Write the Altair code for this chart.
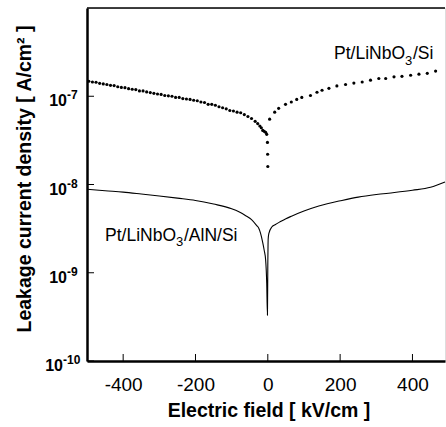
import altair as alt
import pandas as pd

# ---- data ----
# Pt/LiNbO3/Si (dotted)
si_field = [-495, -485, -475, -465, -455, -445, -435, -425, -415, -405,
            -395, -385, -375, -365, -355, -345, -335, -325, -315, -305,
            -295, -285, -275, -265, -255, -245, -235, -225, -215, -205,
            -195, -185, -175, -165, -155, -145, -135, -125, -115, -105,
            -95, -85, -75, -65, -55, -45, -35, -28, -22, -18, -14, -10,
            -6, -3, -1, -0.5, 0,
            5, 19, 30, 49, 65, 80, 94, 118, 136, 150, 169, 191, 215, 238,
            261, 284, 307, 326, 349, 371, 395, 418, 441, 464]
si_j = [1.48e-7, 1.45e-7, 1.44e-7, 1.40e-7, 1.38e-7, 1.36e-7, 1.33e-7, 1.32e-7, 1.28e-7, 1.26e-7,
        1.25e-7, 1.22e-7, 1.20e-7, 1.19e-7, 1.15e-7, 1.15e-7, 1.12e-7, 1.10e-7, 1.08e-7, 1.06e-7,
        1.05e-7, 1.02e-7, 1.01e-7, 1.00e-7, 9.7e-8, 9.7e-8, 9.4e-8, 9.3e-8, 9.2e-8, 9.0e-8,
        8.9e-8, 8.6e-8, 8.5e-8, 8.1e-8, 8.1e-8, 7.9e-8, 7.6e-8, 7.4e-8, 7.2e-8, 6.9e-8,
        6.8e-8, 6.6e-8, 6.5e-8, 6.2e-8, 5.9e-8, 5.6e-8, 5.2e-8, 4.9e-8, 4.6e-8, 4.4e-8, 4.1e-8, 4.0e-8,
        3.9e-8, 3.7e-8, 3.0e-8, 2.2e-8, 1.6e-8,
        5.5e-8, 6.6e-8, 7.3e-8, 8.1e-8, 8.6e-8, 9.2e-8, 9.7e-8, 1.02e-7, 1.11e-7, 1.17e-7, 1.23e-7, 1.31e-7, 1.36e-7, 1.41e-7,
        1.45e-7, 1.52e-7, 1.59e-7, 1.59e-7, 1.66e-7, 1.68e-7, 1.73e-7, 1.78e-7, 1.82e-7, 1.93e-7]

# Pt/LiNbO3/AlN/Si (solid)
aln_field = [-500, -450, -400, -350, -300, -250, -200, -150, -100, -80, -60, -45,
             -30, -25, -20, -14, -10, -6, -3, -1, 0, 1, 3, 11, 20, 35, 50, 67,
             100, 141, 205, 250, 300, 350, 400, 450, 490]
aln_j = [8.85e-9, 8.5e-9, 8.2e-9, 7.8e-9, 7.4e-9, 7.0e-9, 6.6e-9, 6.0e-9, 5.3e-9, 4.9e-9, 4.4e-9, 4.0e-9,
         3.4e-9, 3.2e-9, 2.8e-9, 2.2e-9, 1.8e-9, 1.4e-9, 7.6e-10, 3.3e-10, 1.2e-9, 2.4e-9, 2.8e-9, 3.3e-9, 3.5e-9, 3.8e-9, 4.1e-9, 4.4e-9,
         5.0e-9, 5.7e-9, 6.6e-9, 7.2e-9, 7.7e-9, 8.1e-9, 8.6e-9, 9.3e-9, 1.07e-8]

x_ticks = [-400, -200, 0, 200, 400]
y_ticks = [1e-7, 1e-8, 1e-9, 1e-10]
y_exps = ["-7", "-8", "-9", "-10"]

label_si = ["Pt/LiNbO", "3", "/Si"]
label_aln = ["Pt/LiNbO", "3", "/AlN/Si"]
x_title = "Electric field [ kV/cm ]"
y_title = "Leakage current density [ A/cm\u00b2 ]"

# ---- chart ----
W, H = 358, 353
FONT = "Liberation Sans"
xs = alt.Scale(domain=[-500, 490], nice=False, zero=False)
ys = alt.Scale(type="log", domain=[1e-10, 1e-6], nice=False)

df_si = pd.DataFrame({"E": si_field, "J": si_j})
df_aln = pd.DataFrame({"E": aln_field, "J": aln_j})
df_xt = pd.DataFrame({"v": x_ticks})
df_yt = pd.DataFrame({"v": y_ticks, "exp": y_exps})
one = pd.DataFrame({"a": [0]})

xaxis = alt.Axis(title=None, ticks=False, tickSize=0, grid=False, values=x_ticks,
                 labelExpr="'' + datum.value", labelFont=FONT, labelFontSize=19,
                 labelColor="black", labelBaseline="alphabetic", labelPadding=29,
                 domainColor="black", domainWidth=2.5, labelFlush=False)
yaxis = alt.Axis(title=None, ticks=False, labels=False, grid=False,
                 domainColor="black", domainWidth=2.5)

dots = alt.Chart(df_si).mark_circle(size=10, color="black", opacity=1).encode(
    x=alt.X("E:Q", scale=xs, axis=xaxis),
    y=alt.Y("J:Q", scale=ys, axis=yaxis),
)
line = alt.Chart(df_aln).mark_line(color="black", strokeWidth=1.1, interpolate="monotone").encode(
    x=alt.X("E:Q", scale=xs),
    y=alt.Y("J:Q", scale=ys),
)
xt = alt.Chart(df_xt).mark_rule(color="black", strokeWidth=1).encode(
    x=alt.X("v:Q", scale=xs), y=alt.value(H), y2=alt.value(H - 7))
yt = alt.Chart(df_yt).mark_rule(color="black", strokeWidth=1).encode(
    y=alt.Y("v:Q", scale=ys), x=alt.value(0), x2=alt.value(7))
top = alt.Chart(one).mark_rule(color="black", strokeWidth=1.5).encode(
    x=alt.value(0), x2=alt.value(W), y=alt.value(0))

ten_short = alt.Chart(df_yt).transform_filter("length(datum.exp) < 3").mark_text(
    align="right", baseline="alphabetic", dy=10, font=FONT, fontSize=16, fontWeight="bold", color="black"
).encode(y=alt.Y("v:Q", scale=ys), x=alt.value(-20), text=alt.value("10"))
ten_long = alt.Chart(df_yt).transform_filter("length(datum.exp) >= 3").mark_text(
    align="right", baseline="alphabetic", dy=10, font=FONT, fontSize=16, fontWeight="bold", color="black"
).encode(y=alt.Y("v:Q", scale=ys), x=alt.value(-24), text=alt.value("10"))
exp_short = alt.Chart(df_yt).transform_filter("length(datum.exp) < 3").mark_text(
    align="left", baseline="alphabetic", dy=3, font=FONT, fontSize=12, fontWeight="bold", color="black"
).encode(y=alt.Y("v:Q", scale=ys), x=alt.value(-20), text="exp:N")
exp_long = alt.Chart(df_yt).transform_filter("length(datum.exp) >= 3").mark_text(
    align="left", baseline="alphabetic", dy=3, font=FONT, fontSize=12, fontWeight="bold", color="black"
).encode(y=alt.Y("v:Q", scale=ys), x=alt.value(-24), text="exp:N")


def txt(s, x, y, size, align="left", weight="normal", angle=0, baseline="alphabetic"):
    kw = dict(align=align, baseline=baseline, font=FONT, fontSize=size,
              fontWeight=weight, color="black")
    if angle:
        kw["angle"] = angle
    return alt.Chart(one).mark_text(**kw).encode(
        x=alt.value(x), y=alt.value(y), text=alt.value(s))


annos = [
    txt(label_si[0], 318, 51, 17.5, align="right"),
    txt(label_si[1], 318, 57, 13),
    txt(label_si[2], 326, 51, 17.5),
    txt(label_aln[0], 89, 233, 17.5, align="right"),
    txt(label_aln[1], 89, 238, 13),
    txt(label_aln[2], 97, 233, 17.5),
    txt(x_title, 182, 403, 19.5, align="center", weight="bold", baseline="middle"),
    txt(y_title, -62, 171, 19.5, align="center", weight="bold", angle=270, baseline="middle"),
]

chart = alt.layer(
    line, dots, xt, yt, top, ten_short, ten_long, exp_short, exp_long, *annos
).properties(
    width=W, height=H,
    autosize=alt.AutoSizeParams(type="none"),
    padding={"left": 87, "top": 8, "right": 1, "bottom": 66},
).configure_view(stroke=None).configure(background="white")

chart.save("out.html", embed_options={"renderer": "svg", "actions": False})
